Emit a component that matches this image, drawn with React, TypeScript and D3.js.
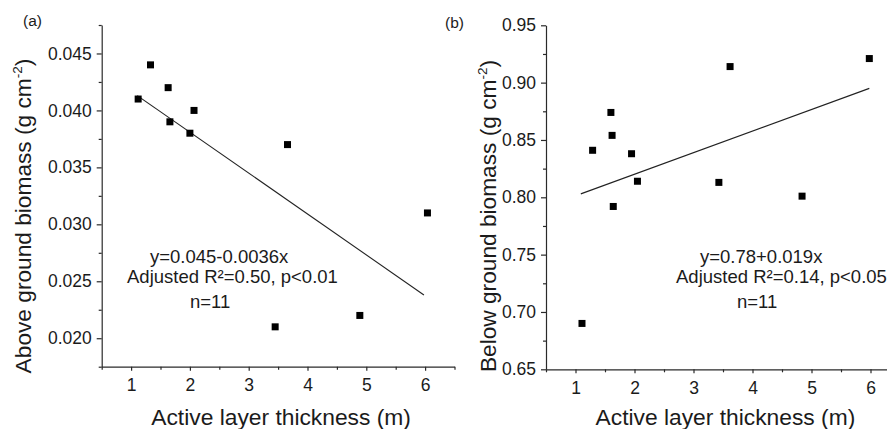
import * as d3 from 'd3'
import { useEffect, useRef } from 'react'

// panel (a): above ground biomass vs active layer thickness
const thickA = [1.12, 1.33, 1.63, 1.66, 2.0, 2.07, 3.45, 3.66, 4.89, 6.04]
const aboveA = [0.041, 0.044, 0.042, 0.039, 0.038, 0.04, 0.021, 0.037, 0.022, 0.031]
const fitThickA = [1.105, 5.98]
const fitAboveA = [0.0413, 0.0238]
const yTicksA = [0.02, 0.025, 0.03, 0.035, 0.04, 0.045]
const yMinorA = [0.0175, 0.0225, 0.0275, 0.0325, 0.0375, 0.0425, 0.0475]
const notesA = ['y=0.045-0.0036x', 'Adjusted R\u00b2=0.50, p<0.01', 'n=11']

// panel (b): below ground biomass vs active layer thickness
const thickB = [1.11, 1.29, 1.6, 1.62, 1.64, 1.95, 2.05, 3.43, 3.62, 4.84, 5.98]
const belowB = [0.69, 0.841, 0.874, 0.854, 0.792, 0.838, 0.814, 0.813, 0.914, 0.801, 0.921]
const fitThickB = [1.09, 5.98]
const fitBelowB = [0.803, 0.895]
const yTicksB = [0.65, 0.7, 0.75, 0.8, 0.85, 0.9, 0.95]
const yMinorB = [0.675, 0.725, 0.775, 0.825, 0.875, 0.925]
const notesB = ['y=0.78+0.019x', 'Adjusted R\u00b2=0.14, p<0.05', 'n=11']

const xTicks = [1, 2, 3, 4, 5, 6]
const xMinor = [0.5, 1.5, 2.5, 3.5, 4.5, 5.5, 6.5]

const FONT = '"Liberation Sans", Arial, sans-serif'
const INK = '#1b1b1b'

const panels = [
    {
        tag: '(a)', tagX: 23, tagY: 26,
        xs: thickA, ys: aboveA, fx: fitThickA, fy: fitAboveA,
        xRange: [101.7, 454.5], yDomain: [0.0175, 0.0475], yRange: [366.7, 25],
        yTicks: yTicksA, yMinor: yMinorA, yFmt: d3.format('.3f'),
        yTitle: 'Above ground biomass (g cm', titleX: 31,
        notes: notesA, noteX: [150, 127, 190],
    },
    {
        tag: '(b)', tagX: 445, tagY: 28,
        xs: thickB, ys: belowB, fx: fitThickB, fy: fitBelowB,
        xRange: [546, 900], yDomain: [0.65, 0.95], yRange: [369.3, 25.3],
        yTicks: yTicksB, yMinor: yMinorB, yFmt: d3.format('.2f'),
        yTitle: 'Below ground biomass (g cm', titleX: 496,
        notes: notesB, noteX: [700, 676, 737],
    },
]

const App = () => {
    const ref = useRef<SVGSVGElement>(null)

    useEffect(() => {
        document.body.style.margin = '0'
        const svg = d3.select(ref.current)
        svg.selectAll('*').remove()

        panels.forEach(p => {
            const x = d3.scaleLinear().domain([0.5, 6.5]).range(p.xRange)
            const y = d3.scaleLinear().domain(p.yDomain).range(p.yRange)
            const g = svg.append('g')
            const yBase = p.yRange[0]

            // minor ticks first, without domain lines
            g.append('g')
                .attr('transform', `translate(0,${yBase})`)
                .call(d3.axisBottom(x).tickValues(xMinor).tickSize(3).tickFormat(() => ''))
                .call(s => s.select('.domain').remove())
            g.append('g')
                .attr('transform', `translate(${p.xRange[0]},0)`)
                .call(d3.axisLeft(y).tickValues(p.yMinor).tickSize(3).tickFormat(() => ''))
                .call(s => s.select('.domain').remove())

            // major axes
            g.append('g')
                .attr('transform', `translate(0,${yBase})`)
                .call(d3.axisBottom(x).tickValues(xTicks).tickSize(4).tickSizeOuter(0).tickPadding(8).tickFormat(d3.format('d')))
            g.append('g')
                .attr('transform', `translate(${p.xRange[0]},0)`)
                .call(d3.axisLeft(y).tickValues(p.yTicks).tickSize(5).tickSizeOuter(0).tickPadding(5).tickFormat(p.yFmt))

            g.selectAll('.domain, .tick line').attr('stroke', '#2a2a2a').attr('stroke-width', 1.2)
            g.selectAll('.tick text')
                .attr('fill', INK)
                .style('font-family', FONT)
                .style('font-size', '17.5px')

            // fitted line
            const line = d3.line<number>()
                .x(d => x(d))
                .y((_, i) => y(p.fy[i]))
            g.append('path')
                .datum(p.fx)
                .attr('fill', 'none')
                .attr('stroke', '#222')
                .attr('stroke-width', 1.1)
                .attr('d', line)

            // points
            g.selectAll('rect.pt')
                .data(p.xs)
                .join('rect')
                .attr('class', 'pt')
                .attr('x', d => x(d) - 3.5)
                .attr('y', (_, i) => y(p.ys[i]) - 3.5)
                .attr('width', 7)
                .attr('height', 7)
                .attr('fill', '#000')

            // panel tag
            g.append('text')
                .attr('x', p.tagX)
                .attr('y', p.tagY)
                .attr('fill', INK)
                .style('font-family', FONT)
                .style('font-size', '15.5px')
                .text(p.tag)

            // axis titles
            g.append('text')
                .attr('x', (p.xRange[0] + p.xRange[0] + 6 * 58.8) / 2 + 3)
                .attr('y', 425)
                .attr('text-anchor', 'middle')
                .attr('fill', INK)
                .style('font-family', FONT)
                .style('font-size', '22.8px')
                .text('Active layer thickness (m)')

            const yt = g.append('text')
                .attr('transform', `translate(${p.titleX},216) rotate(-90)`)
                .attr('text-anchor', 'middle')
                .attr('fill', INK)
                .style('font-family', FONT)
                .style('font-size', '22.7px')
            yt.append('tspan').text(p.yTitle)
            yt.append('tspan').attr('dy', -9).style('font-size', '13.6px').text('-2')
            yt.append('tspan').attr('dy', 9).text(')')

            // regression notes
            const noteY = [263, 282.5, 308]
            p.notes.forEach((n, i) => {
                g.append('text')
                    .attr('x', p.noteX[i])
                    .attr('y', noteY[i])
                    .attr('fill', INK)
                    .style('font-family', FONT)
                    .style('font-size', '18.5px')
                    .text(n)
            })
        })
    }, [])

    return (
        <svg ref={ref} width={887} height={429} style={{ display: 'block', background: '#fff' }} />
    )
}

export default App
